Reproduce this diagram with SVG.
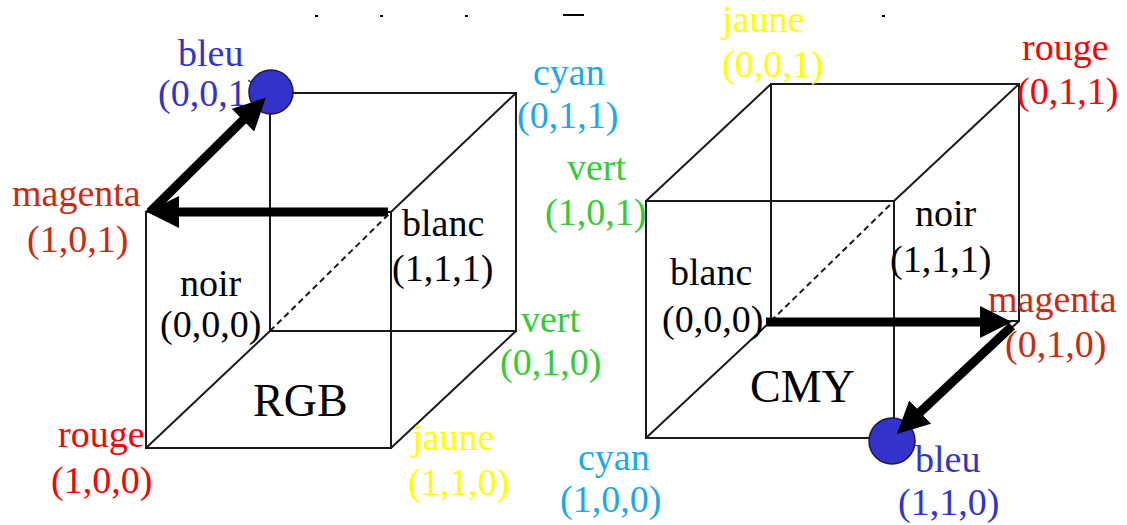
<svg xmlns="http://www.w3.org/2000/svg" width="1127" height="525" viewBox="0 0 1127 525">
<style>
text{font-family:"Liberation Serif","Times New Roman",serif;font-size:38px}
.big{font-size:46px}
.edge{fill:none;stroke:#1a1a1a;stroke-width:2}
.dash{fill:none;stroke:#1a1a1a;stroke-width:2;stroke-dasharray:6 4}
.arrow{fill:none;stroke:#000;stroke-width:9}
.k{fill:#000}.b{fill:#3333cc}.m{fill:#cc2a10}.r{fill:#ff0000}.c{fill:#1aaae8}.g{fill:#33cc33}.y{fill:#ffff00}
.dot{fill:#3333cc;stroke:#1a1a40;stroke-width:1.5}
</style>
<defs>
<marker id="head" viewBox="0 0 32 32" markerWidth="32" markerHeight="32" refX="2" refY="16" orient="auto" markerUnits="userSpaceOnUse">
<path d="M0,0 L32,16 L0,32 Z" fill="#000"/>
</marker>
</defs>
<rect width="1127" height="525" fill="#fff"/>
<g id="specks" fill="#000">
<rect x="315" y="15" width="3" height="2"/><rect x="380" y="15" width="3" height="2"/><rect x="465" y="15" width="3" height="2"/>
<rect x="563" y="14" width="21" height="2"/><rect x="882" y="15" width="3" height="2"/>
</g>
<g id="cube-rgb">
<path class="edge" d="M270,93 H516 V331 H270 Z M146,212 H391 V448 H146 Z M146,212 L270,93 M391,212 L516,93 M146,448 L270,331 M391,448 L516,331"/>
<path class="dash" d="M270,331 L391,212"/>
<text class="big k" x="253" y="416">RGB</text>
</g>
<g id="cube-cmy">
<path class="edge" d="M771,84 H1019 V321 H771 Z M646,201 H894 V438 H646 Z M646,201 L771,84 M894,201 L1019,84 M646,438 L771,321 M894,438 L1019,321"/>
<path class="dash" d="M771,321 L894,201"/>
<text class="big k" x="750" y="402">CMY</text>
</g>
<g id="rgb-bleu"><text class="b" x="178" y="66">bleu</text><text class="b" x="158" y="106">(0,0,1)</text><circle class="dot" cx="271" cy="92" r="22"/></g>
<g id="rgb-cyan"><text class="c" x="533" y="85">cyan</text><text class="c" x="517" y="128">(0,1,1)</text></g>
<g id="rgb-magenta"><text class="m" x="12" y="206">magenta</text><text class="m" x="27" y="252">(1,0,1)</text></g>
<g id="rgb-blanc"><text class="k" x="402" y="236">blanc</text><text class="k" x="392" y="281">(1,1,1)</text></g>
<g id="rgb-noir"><text class="k" x="180" y="296">noir</text><text class="k" x="160" y="337">(0,0,0)</text></g>
<g id="rgb-vert"><text class="g" x="521" y="332">vert</text><text class="g" x="500" y="375">(0,1,0)</text></g>
<g id="rgb-rouge"><text class="r" x="58" y="447">rouge</text><text class="r" x="51" y="493">(1,0,0)</text></g>
<g id="rgb-jaune"><text class="y" x="412" y="450">jaune</text><text class="y" x="408" y="495">(1,1,0)</text></g>
<g id="cmy-jaune"><text class="y" x="722" y="32">jaune</text><text class="y" x="722" y="77">(0,0,1)</text></g>
<g id="cmy-rouge"><text class="r" x="1022" y="60">rouge</text><text class="r" x="1017" y="104">(0,1,1)</text></g>
<g id="cmy-vert"><text class="g" x="567" y="180">vert</text><text class="g" x="545" y="225">(1,0,1)</text></g>
<g id="cmy-noir"><text class="k" x="915" y="226">noir</text><text class="k" x="890" y="272">(1,1,1)</text></g>
<g id="cmy-blanc"><text class="k" x="670" y="285">blanc</text><text class="k" x="662" y="332">(0,0,0)</text></g>
<g id="cmy-magenta"><text class="m" x="988" y="312">magenta</text><text class="m" x="1005" y="357">(0,1,0)</text></g>
<g id="cmy-cyan"><text class="c" x="578" y="470">cyan</text><text class="c" x="560" y="512">(1,0,0)</text></g>
<g id="cmy-bleu"><circle class="dot" cx="892" cy="441" r="23"/><text class="b" x="915" y="472">bleu</text><text class="b" x="898" y="515">(1,1,0)</text></g>
<g id="connectors">
<line class="arrow" x1="388" y1="212" x2="177" y2="212" marker-end="url(#head)"/>
<line class="arrow" x1="150" y1="212" x2="244.4" y2="118.8" marker-end="url(#head)"/>
<line class="arrow" x1="766" y1="322" x2="982" y2="322" marker-end="url(#head)"/>
<line class="arrow" x1="1012" y1="326" x2="918.8" y2="413.4" marker-end="url(#head)"/>
</g>
</svg>
